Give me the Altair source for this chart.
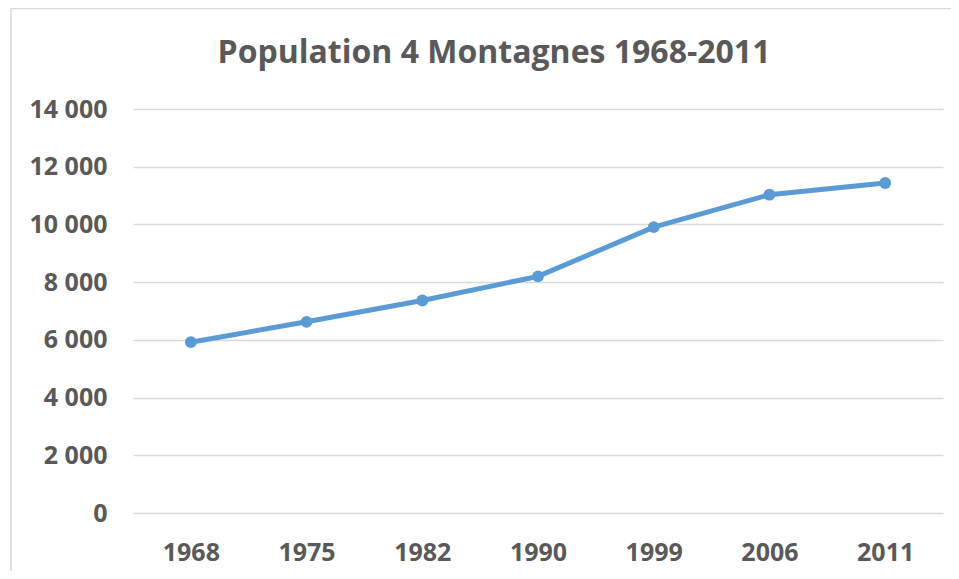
import altair as alt
import pandas as pd

years = ["1968", "1975", "1982", "1990", "1999", "2006", "2011"]
population = [5920, 6625, 7365, 8200, 9905, 11030, 11435]
title_text = ["Population 4 Montagnes 1968-2011"]

df = pd.DataFrame({"year": years, "population": population})
tdf = pd.DataFrame({"t": title_text})

FONT = "Open Sans"
TEXT = "#595959"
BLUE = "#5B9BD5"
GRID = "#D9D9D9"

x_enc = alt.X(
    "year:N",
    sort=years,
    scale=alt.Scale(type="point", padding=0.5),
    axis=alt.Axis(
        title=None, domain=False, ticks=False, tickSize=0, grid=False,
        labelFont=FONT, labelFontSize=25, labelFontWeight="bold", labelColor=TEXT,
        labelBaseline="alphabetic", labelPadding=47, labelAngle=0,
    ),
)
y_enc = alt.Y(
    "population:Q",
    scale=alt.Scale(domain=[0, 14000], nice=False),
    axis=alt.Axis(
        title=None, domain=False, ticks=False, tickSize=0,
        values=[0, 2000, 4000, 6000, 8000, 10000, 12000, 14000],
        grid=True, gridColor=GRID, gridWidth=1.4,
        labelFont=FONT, labelFontSize=25, labelFontWeight="bold", labelColor=TEXT,
        labelPadding=26,
        labelExpr="replace(format(datum.value, ','), ',', ' ')",
    ),
)

frame = alt.Chart(tdf).mark_rect(
    fill=None, stroke=GRID, strokeWidth=1.5
).encode(
    x=alt.value(-122), x2=alt.value(1200),
    y=alt.value(-100.5), y2=alt.value(900),
)

title = alt.Chart(tdf).mark_text(
    font=FONT, fontSize=32, fontWeight="bold", color=TEXT,
    align="center", baseline="alphabetic",
).encode(
    text=alt.Text("t:N"),
    x=alt.value(361), y=alt.value(-46),
)

line = alt.Chart(df).mark_line(color=BLUE, strokeWidth=5).encode(x=x_enc, y=y_enc)
points = alt.Chart(df).mark_circle(color=BLUE, size=140, opacity=1).encode(x=x_enc, y=y_enc)

chart = alt.layer(frame, title, line, points).properties(
    width=810,
    height=404,
    autosize=alt.AutoSizeParams(type="none"),
    padding={"left": 125, "top": 101, "right": 8, "bottom": 58},
).configure(background="white").configure_view(strokeWidth=0, stroke="transparent")

chart.save("out.html", embed_options={"renderer": "svg", "actions": False})
